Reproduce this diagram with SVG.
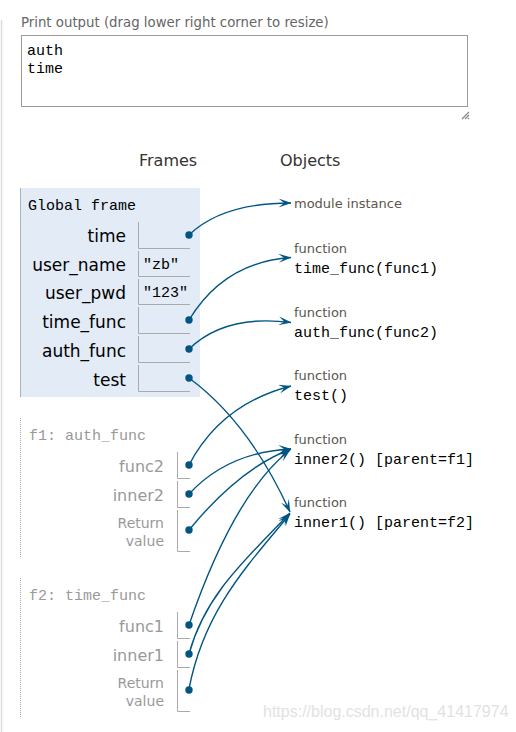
<svg xmlns="http://www.w3.org/2000/svg" width="516" height="732" viewBox="0 0 516 732">
<style>
.sans{font-family:"DejaVu Sans","Liberation Sans",sans-serif}
.mono{font-family:"Liberation Mono","DejaVu Sans Mono",monospace}
.hdr{font-size:16px;fill:#333}
.gname{font-size:17px;fill:#000;text-anchor:end}
.fname{font-size:16px;fill:#999;text-anchor:end}
.rname{font-size:14px;fill:#999;text-anchor:end}
.val{font-size:15px;fill:#000}
.flabel{font-size:15px;fill:#999}
.type{font-size:13px;fill:#5a5650}
.code{font-size:15px;fill:#000}
.box{fill:none;stroke:#aaa;stroke-width:1}
.conn{fill:none;stroke:#005583;stroke-width:1.4;marker-end:url(#arr)}
.dot{fill:#005583}
</style>
<defs>
<marker id="arr" markerUnits="userSpaceOnUse" markerWidth="13" markerHeight="9" viewBox="0 0 13 9" refX="12.5" refY="4.5" orient="auto">
<path d="M0,0 L13,4.5 L0,9 L5.8,4.5 Z" fill="#005583"/>
</marker>
</defs>
<rect width="516" height="732" fill="#fff"/>
<line x1="1.5" y1="20" x2="1.5" y2="732" stroke="#dcdcdc" stroke-width="1.5"/>
<g id="print-output">
<text class="sans" x="21" y="27" font-size="13.3" fill="#666">Print output (drag lower right corner to resize)</text>
<rect x="21.5" y="35.5" width="446" height="71" fill="#fff" stroke="#9a9a9a"/>
<text class="mono" x="27" y="55" font-size="15" fill="#000">auth</text>
<text class="mono" x="27" y="73" font-size="15" fill="#000">time</text>
<path d="M469,112 L462,119 M469,115 L465,119 M469,118 L468,119" stroke="#888" stroke-width="1.2"/>
</g>
<g id="headers">
<text class="sans hdr" x="139" y="166">Frames</text>
<text class="sans hdr" x="280" y="166">Objects</text>
</g>
<g id="global-frame">
<rect x="20" y="188" width="180" height="209" fill="#e2ebf6"/>
<line x1="20.5" y1="188" x2="20.5" y2="397" stroke="#a6b3b6"/>
<text class="mono val" x="28" y="210">Global frame</text>
<text class="sans gname" x="126" y="242">time</text>
<path class="box" d="M138.5,222 V248.5 H190"/>
<text class="sans gname" x="126" y="271">user_name</text>
<path class="box" d="M138.5,251 V276.5 H190"/>
<text class="mono val" x="143" y="269">"zb"</text>
<text class="sans gname" x="126" y="299">user_pwd</text>
<path class="box" d="M138.5,279 V304.5 H190"/>
<text class="mono val" x="143" y="297">"123"</text>
<text class="sans gname" x="126" y="328">time_func</text>
<path class="box" d="M138.5,307 V333.5 H190"/>
<text class="sans gname" x="126" y="357">auth_func</text>
<path class="box" d="M138.5,336 V362.5 H190"/>
<text class="sans gname" x="126" y="386">test</text>
<path class="box" d="M138.5,365 V391.5 H190"/>
</g>
<g id="f1-frame">
<line x1="20.5" y1="418" x2="20.5" y2="558" stroke="#aaa" stroke-dasharray="1,1"/>
<text class="mono flabel" x="29" y="440">f1: auth_func</text>
<text class="sans fname" x="164" y="472">func2</text>
<path class="box" d="M177.5,452 V478.5 H190"/>
<text class="sans fname" x="164" y="501">inner2</text>
<path class="box" d="M177.5,481 V507.5 H190"/>
<text class="sans rname" x="164" y="528">Return</text>
<text class="sans rname" x="164" y="546">value</text>
<path class="box" d="M177.5,510 V551.5 H190"/>
</g>
<g id="f2-frame">
<line x1="20.5" y1="578" x2="20.5" y2="718" stroke="#aaa" stroke-dasharray="1,1"/>
<text class="mono flabel" x="29" y="600">f2: time_func</text>
<text class="sans fname" x="164" y="632">func1</text>
<path class="box" d="M177.5,612 V638.5 H190"/>
<text class="sans fname" x="164" y="661">inner1</text>
<path class="box" d="M177.5,641 V667.5 H190"/>
<text class="sans rname" x="164" y="688">Return</text>
<text class="sans rname" x="164" y="706">value</text>
<path class="box" d="M177.5,670 V711.5 H190"/>
</g>
<g id="obj-module">
<text class="sans type" x="294" y="208">module instance</text>
</g>
<g id="obj-time_func">
<text class="sans type" x="294" y="253">function</text>
<text class="mono code" x="294" y="273">time_func(func1)</text>
</g>
<g id="obj-auth_func">
<text class="sans type" x="294" y="317">function</text>
<text class="mono code" x="294" y="337">auth_func(func2)</text>
</g>
<g id="obj-test">
<text class="sans type" x="294" y="380">function</text>
<text class="mono code" x="294" y="400">test()</text>
</g>
<g id="obj-inner2">
<text class="sans type" x="294" y="444">function</text>
<text class="mono code" x="294" y="464">inner2() [parent=f1]</text>
</g>
<g id="obj-inner1">
<text class="sans type" x="294" y="507">function</text>
<text class="mono code" x="294" y="527">inner1() [parent=f2]</text>
</g>
<g id="connectors">
<path class="conn" d="M189,235 Q222,203 291,203"/>
<path class="conn" d="M189,320 Q224,262 291,257.5"/>
<path class="conn" d="M189,349 Q225,314 291,322.5"/>
<path class="conn" d="M189,378 Q249,422 290,512"/>
<path class="conn" d="M189,465 Q221,404 291,386"/>
<path class="conn" d="M189,494 Q228,452 291,449"/>
<path class="conn" d="M189,530 Q240,468 291,449"/>
<path class="conn" d="M189,625 Q234,494 290,450"/>
<path class="conn" d="M189,654 C205,595 245,560 290,513"/>
<path class="conn" d="M189,689 C204,610 248,565 290,514"/>
<circle class="dot" cx="189" cy="235" r="3.7"/>
<circle class="dot" cx="189" cy="320" r="3.7"/>
<circle class="dot" cx="189" cy="349" r="3.7"/>
<circle class="dot" cx="189" cy="378" r="3.7"/>
<circle class="dot" cx="189" cy="465" r="3.7"/>
<circle class="dot" cx="189" cy="494" r="3.7"/>
<circle class="dot" cx="189" cy="530" r="3.7"/>
<circle class="dot" cx="189" cy="625" r="3.7"/>
<circle class="dot" cx="189" cy="654" r="3.7"/>
<circle class="dot" cx="189" cy="690" r="3.7"/>
</g>
<text x="263" y="717" font-family="Liberation Sans, Arial, sans-serif" font-size="16" fill="#e2e2e2">https://blog.csdn.net/qq_41417974</text>
</svg>
